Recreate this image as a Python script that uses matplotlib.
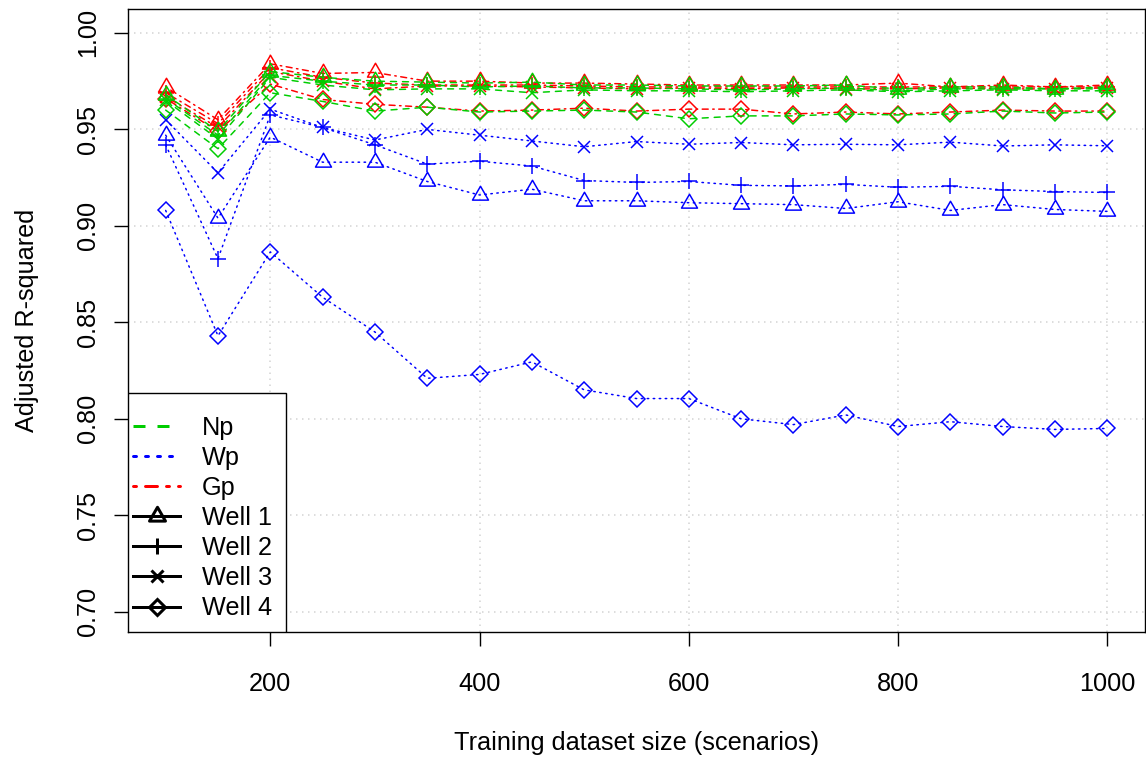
import matplotlib
matplotlib.use("Agg")
import matplotlib.pyplot as plt
from matplotlib.lines import Line2D
from matplotlib.patches import Rectangle
from matplotlib.path import Path

plt.rcParams['font.family'] = ['Liberation Sans', 'DejaVu Sans']

sizes = [100, 150, 200, 250, 300, 350, 400, 450, 500, 550,
         600, 650, 700, 750, 800, 850, 900, 950, 1000]

np_well1 = [0.968, 0.949, 0.980, 0.977, 0.975, 0.9745, 0.974, 0.9745, 0.973, 0.973,
            0.9725, 0.9725, 0.9725, 0.973, 0.971, 0.972, 0.972, 0.971, 0.972]
np_well2 = [0.966, 0.947, 0.978, 0.975, 0.973, 0.973, 0.972, 0.9725, 0.9715, 0.9715,
            0.971, 0.9705, 0.971, 0.9715, 0.970, 0.971, 0.971, 0.971, 0.971]
np_well3 = [0.965, 0.945, 0.977, 0.973, 0.9705, 0.971, 0.971, 0.969, 0.9705, 0.970,
            0.970, 0.9695, 0.970, 0.9705, 0.9695, 0.970, 0.9705, 0.970, 0.970]
np_well4 = [0.960, 0.940, 0.969, 0.9645, 0.9595, 0.9615, 0.959, 0.9595, 0.960, 0.959,
            0.9555, 0.957, 0.957, 0.958, 0.9575, 0.958, 0.9595, 0.9585, 0.959]

wp_well1 = [0.947, 0.904, 0.946, 0.933, 0.933, 0.923, 0.916, 0.919, 0.913, 0.913,
            0.912, 0.9115, 0.911, 0.909, 0.9125, 0.908, 0.911, 0.9085, 0.9075]
wp_well2 = [0.942, 0.883, 0.9575, 0.951, 0.942, 0.932, 0.9335, 0.931, 0.9235, 0.9225,
            0.923, 0.921, 0.9207, 0.9215, 0.920, 0.9205, 0.9187, 0.9178, 0.9173]
wp_well3 = [0.955, 0.9275, 0.9605, 0.951, 0.9445, 0.950, 0.947, 0.944, 0.941, 0.9437,
            0.9423, 0.9432, 0.942, 0.9423, 0.942, 0.9434, 0.9414, 0.942, 0.9415]
wp_well4 = [0.908, 0.843, 0.8865, 0.863, 0.845, 0.821, 0.823, 0.8295, 0.815, 0.8105,
            0.8105, 0.8, 0.797, 0.802, 0.796, 0.7985, 0.796, 0.7945, 0.795]

gp_well1 = [0.972, 0.955, 0.984, 0.979, 0.9795, 0.975, 0.975, 0.974, 0.974, 0.9735,
            0.973, 0.973, 0.973, 0.973, 0.974, 0.972, 0.973, 0.972, 0.973]
gp_well2 = [0.969, 0.953, 0.982, 0.977, 0.974, 0.973, 0.973, 0.973, 0.9725, 0.972,
            0.972, 0.972, 0.972, 0.972, 0.972, 0.972, 0.972, 0.972, 0.972]
gp_well3 = [0.967, 0.951, 0.980, 0.975, 0.971, 0.9725, 0.9725, 0.972, 0.9715, 0.971,
            0.9715, 0.971, 0.9715, 0.971, 0.971, 0.9715, 0.971, 0.971, 0.9715]
gp_well4 = [0.966, 0.949, 0.9735, 0.9655, 0.963, 0.9615, 0.9595, 0.960, 0.961, 0.9595,
            0.9605, 0.9605, 0.958, 0.959, 0.958, 0.959, 0.960, 0.9595, 0.9595]

x_ticks = [200, 400, 600, 800, 1000]
y_ticks = [0.70, 0.75, 0.80, 0.85, 0.90, 0.95, 1.00]
well_names = ["Well 1", "Well 2", "Well 3", "Well 4"]

GREEN = "#00CD00"
BLUE = "#0000FF"
RED = "#FF0000"
LW = 1.08
FS = 18.2

# triangle like R's pch 2, centred on its centroid
tri = Path([(0, 1.555), (1.347, -0.778), (-1.347, -0.778), (0, 1.555)],
           [Path.MOVETO, Path.LINETO, Path.LINETO, Path.CLOSEPOLY])
markers = [(tri, 13.3), ('+', 12.1), ('x', 8.6), ('D', 8.5)]

# (values per well, colour, dash pattern) -- red drawn first, green on top
groups = [
    ([gp_well1, gp_well2, gp_well3, gp_well4], RED, (1, 3, 4, 3)),
    ([wp_well1, wp_well2, wp_well3, wp_well4], BLUE, (1, 3)),
    ([np_well1, np_well2, np_well3, np_well4], GREEN, (4, 4)),
]

fig = plt.figure(figsize=(11.46, 7.61), dpi=100)
ax = fig.add_axes([128 / 1146, 1 - 632 / 761, 1017 / 1146, 623 / 761])

for x in x_ticks:
    ax.axvline(x, color="#D3D3D3", lw=LW, dashes=(1, 3), zorder=0)
for y in y_ticks:
    ax.axhline(y, color="#D3D3D3", lw=LW, dashes=(1, 3), zorder=0)

for series, col, dash in groups:
    for vals, (mk, ms) in zip(series, markers):
        ax.plot(sizes, vals, color=col, lw=LW, dashes=dash, dash_capstyle='round',
                marker=mk, markersize=ms, markerfacecolor='none',
                markeredgecolor=col, markeredgewidth=LW, zorder=2)

ax.set_xlim(64, 1036)
ax.set_ylim(0.6895, 1.0124)
ax.set_xticks(x_ticks)
ax.set_yticks(y_ticks)
ax.set_yticklabels(["%.2f" % v for v in y_ticks])
ax.tick_params(length=10, width=1.0, labelsize=FS, direction='out')
ax.tick_params(axis='x', pad=19)
ax.tick_params(axis='y', pad=10)
for lab in ax.get_yticklabels():
    lab.set_rotation(90)
    lab.set_va('center')
for sp in ax.spines.values():
    sp.set_linewidth(1.0)

ax.set_xlabel("Training dataset size (scenarios)", fontsize=FS, va='center')
ax.xaxis.set_label_coords(0.5005, -0.1783)
ax.set_ylabel("Adjusted R-squared", fontsize=FS, va='center')
ax.yaxis.set_label_coords(-0.099, 0.5)

# legend with a white box in the bottom left corner
ax.add_patch(Rectangle((0, 0), 158 / 1017, 239 / 623, transform=ax.transAxes,
                       facecolor='white', edgecolor='black', lw=1.0, zorder=4))
handles = [
    Line2D([], [], color=GREEN, lw=2.16, dashes=(4, 4)),
    Line2D([], [], color=BLUE, lw=2.16, dashes=(1, 3), dash_capstyle='round'),
    Line2D([], [], color=RED, lw=2.16, dashes=(1, 3, 4, 3), dash_capstyle='round'),
]
for mk, ms in markers:
    handles.append(Line2D([], [], color='black', lw=2.16, marker=mk, markersize=ms,
                          markerfacecolor='none', markeredgewidth=2.16))
labels = ["Np", "Wp", "Gp"] + well_names
leg = ax.legend(handles, labels, loc='upper left', bbox_to_anchor=(5 / 1017, 216 / 623),
                frameon=False, borderpad=0, borderaxespad=0, fontsize=FS,
                handlelength=1.86, handletextpad=0.87, labelspacing=0.24)
leg.set_zorder(5)

fig.savefig("out.png", dpi=100)
